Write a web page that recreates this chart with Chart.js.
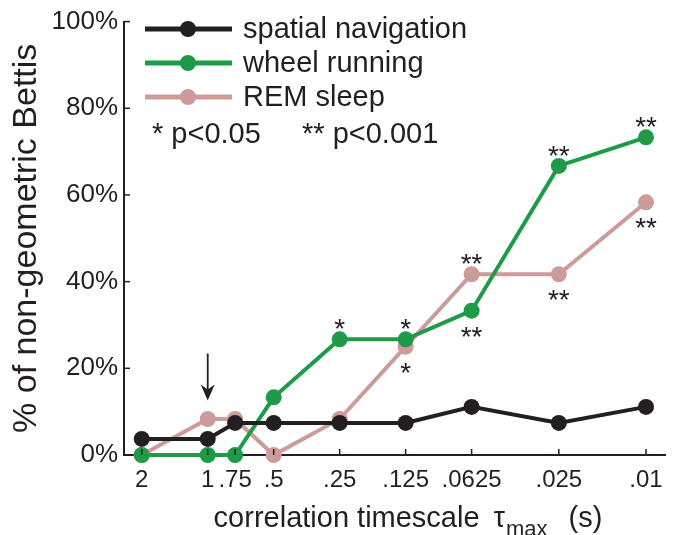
<!DOCTYPE html>
<html lang="en">
<head>
<meta charset="UTF-8">
<title>Non-geometric Bettis</title>
<script src="https://cdn.jsdelivr.net/npm/chart.js"></script>
<style>
    body { margin: 0; background: #fff; }
    .wrap { width: 674px; height: 535px; position: relative; }
</style>
</head>
<body>
<div class="wrap"><canvas id="bettiChart"></canvas></div>
<script>
// correlation timescale tau_max (s), plotted on a reversed log axis
const xValues = [2, 1, 0.75, 0.5, 0.25, 0.125, 0.0625, 0.025, 0.01];
const xLabels = ['2', '1', '.75', '.5', '.25', '.125', '.0625', '.025', '.01'];
const yTicks = [0, 20, 40, 60, 80, 100];

// % of non-geometric Bettis
const spatialNav   = [3.7, 3.7, 7.4, 7.4, 7.4, 7.4, 11.1, 7.4, 11.1];
const wheelRunning = [0, 0, 0, 13.3, 26.7, 26.7, 33.3, 66.7, 73.3];
const remSleep     = [0, 8.3, 8.3, 0, 8.3, 25, 41.7, 41.7, 58.3];

// significance marks
const wheelSig = ['', '', '', '', '*', '*', '**', '**', '**'];
const remSig   = ['', '', '', '', '', '*', '**', '**', '**'];

// arrow marking tau_max = 1 s
const arrowAt = 1, arrowFrom = 23.4, arrowTo = 12.6;

const FONT = '"Liberation Sans", Arial, Helvetica, sans-serif';
const INK = '#231f20';
const GREEN = '#1f9a48';
const PINK = '#cc9b9a';

function pts(arr) {
    return xValues.map((x, i) => ({ x: x, y: arr[i] }));
}

const overlay = {
    id: 'overlay',
    afterDatasetsDraw(chart) {
        const ctx = chart.ctx;
        const x = chart.scales.x, y = chart.scales.y;
        ctx.save();

        // inward ticks
        ctx.strokeStyle = INK;
        ctx.lineWidth = 1.5;
        xValues.forEach(v => {
            const px = x.getPixelForValue(v);
            ctx.beginPath();
            ctx.moveTo(px, y.bottom);
            ctx.lineTo(px, y.bottom - 6);
            ctx.stroke();
        });
        yTicks.forEach(v => {
            const py = y.getPixelForValue(v);
            ctx.beginPath();
            ctx.moveTo(x.left, py);
            ctx.lineTo(x.left + 6, py);
            ctx.stroke();
        });

        // asterisks, above the higher series, below the lower one
        ctx.fillStyle = INK;
        ctx.font = '28px ' + FONT;
        ctx.textAlign = 'center';
        ctx.textBaseline = 'alphabetic';
        xValues.forEach((v, i) => {
            const px = x.getPixelForValue(v);
            if (wheelSig[i]) {
                const py = y.getPixelForValue(wheelRunning[i]);
                const above = wheelRunning[i] >= remSleep[i];
                ctx.fillText(wheelSig[i], px, above ? py - 1 : py + 35);
            }
            if (remSig[i]) {
                const py = y.getPixelForValue(remSleep[i]);
                const above = remSleep[i] > wheelRunning[i];
                ctx.fillText(remSig[i], px, above ? py - 1 : py + 35);
            }
        });

        // arrow
        const ax = x.getPixelForValue(arrowAt);
        const ay0 = y.getPixelForValue(arrowFrom);
        const ay1 = y.getPixelForValue(arrowTo);
        ctx.lineWidth = 1.8;
        ctx.beginPath();
        ctx.moveTo(ax, ay0);
        ctx.lineTo(ax, ay1 - 10);
        ctx.stroke();
        ctx.beginPath();
        ctx.moveTo(ax - 7, ay1 - 16);
        ctx.lineTo(ax, ay1 - 11);
        ctx.lineTo(ax + 7, ay1 - 16);
        ctx.lineTo(ax, ay1);
        ctx.closePath();
        ctx.fill();

        // legend
        ctx.textAlign = 'left';
        ctx.textBaseline = 'middle';
        ctx.font = '29px ' + FONT;
        chart.data.datasets.forEach((ds, i) => {
            const ly = 29 + i * 34;
            ctx.strokeStyle = ds.borderColor;
            ctx.lineWidth = 5;
            ctx.beginPath();
            ctx.moveTo(145, ly);
            ctx.lineTo(232, ly);
            ctx.stroke();
            ctx.fillStyle = ds.borderColor;
            ctx.beginPath();
            ctx.arc(188, ly, 8, 0, Math.PI * 2);
            ctx.fill();
            ctx.fillStyle = INK;
            ctx.fillText(ds.label, 243, ly + 1);
        });
        ctx.fillText('* p<0.05', 152, 135);
        ctx.fillText('** p<0.001', 302, 135);

        // x axis title with subscript
        ctx.textBaseline = 'alphabetic';
        ctx.font = '29px ' + FONT;
        const t1 = 'correlation timescale';
        const w1 = ctx.measureText(t1).width;
        const wTau = ctx.measureText('\u03c4').width;
        const w3 = ctx.measureText('(s)').width;
        ctx.font = '22px ' + FONT;
        const wSub = ctx.measureText('max').width;
        const total = w1 + 14 + wTau + wSub + 22 + w3;
        let cx = 408 - total / 2;
        const base = 527;
        ctx.font = '29px ' + FONT;
        ctx.fillText(t1, cx, base);
        cx += w1 + 14;
        ctx.fillText('\u03c4', cx, base);
        cx += wTau + 1;
        ctx.font = '22px ' + FONT;
        ctx.fillText('max', cx, base + 9);
        cx += wSub + 21;
        ctx.font = '29px ' + FONT;
        ctx.fillText('(s)', cx, base);

        ctx.restore();
    }
};

new Chart(document.getElementById('bettiChart'), {
    type: 'line',
    data: {
        datasets: [
            { label: 'spatial navigation', data: pts(spatialNav), borderColor: INK, backgroundColor: INK },
            { label: 'wheel running', data: pts(wheelRunning), borderColor: GREEN, backgroundColor: GREEN },
            { label: 'REM sleep', data: pts(remSleep), borderColor: PINK, backgroundColor: PINK }
        ]
    },
    options: {
        responsive: true,
        maintainAspectRatio: false,
        animation: false,
        layout: { padding: { top: 20, right: 0, left: 0, bottom: 0 } },
        elements: {
            line: { borderWidth: 4, tension: 0 },
            point: { radius: 8, borderWidth: 0, hoverRadius: 8 }
        },
        datasets: { line: { clip: false } },
        plugins: {
            legend: { display: false },
            tooltip: { enabled: false }
        },
        scales: {
            x: {
                type: 'logarithmic',
                reverse: true,
                min: 0.00813,
                max: 2.41,
                grid: { display: false, drawTicks: false },
                border: { display: true, color: INK, width: 2 },
                afterBuildTicks: s => { s.ticks = xValues.map(v => ({ value: v })); },
                afterFit: s => { s.height = 80; },
                ticks: {
                    autoSkip: false,
                    maxRotation: 0,
                    padding: 11,
                    color: INK,
                    font: { family: FONT, size: 24 },
                    callback: (v, i) => xLabels[i]
                }
            },
            y: {
                min: 0,
                max: 100,
                grid: { display: false, drawTicks: false },
                border: { display: true, color: INK, width: 2 },
                afterBuildTicks: s => { s.ticks = yTicks.map(v => ({ value: v })); },
                afterFit: s => { s.width = 124; },
                ticks: {
                    padding: 6,
                    color: INK,
                    font: { family: FONT, size: 26 },
                    callback: v => v + '%'
                },
                title: {
                    display: true,
                    text: '% of non-geometric Bettis',
                    color: INK,
                    font: { family: FONT, size: 34 },
                    padding: { top: 6, bottom: 0 }
                }
            }
        }
    },
    plugins: [overlay]
});
</script>
</body>
</html>
